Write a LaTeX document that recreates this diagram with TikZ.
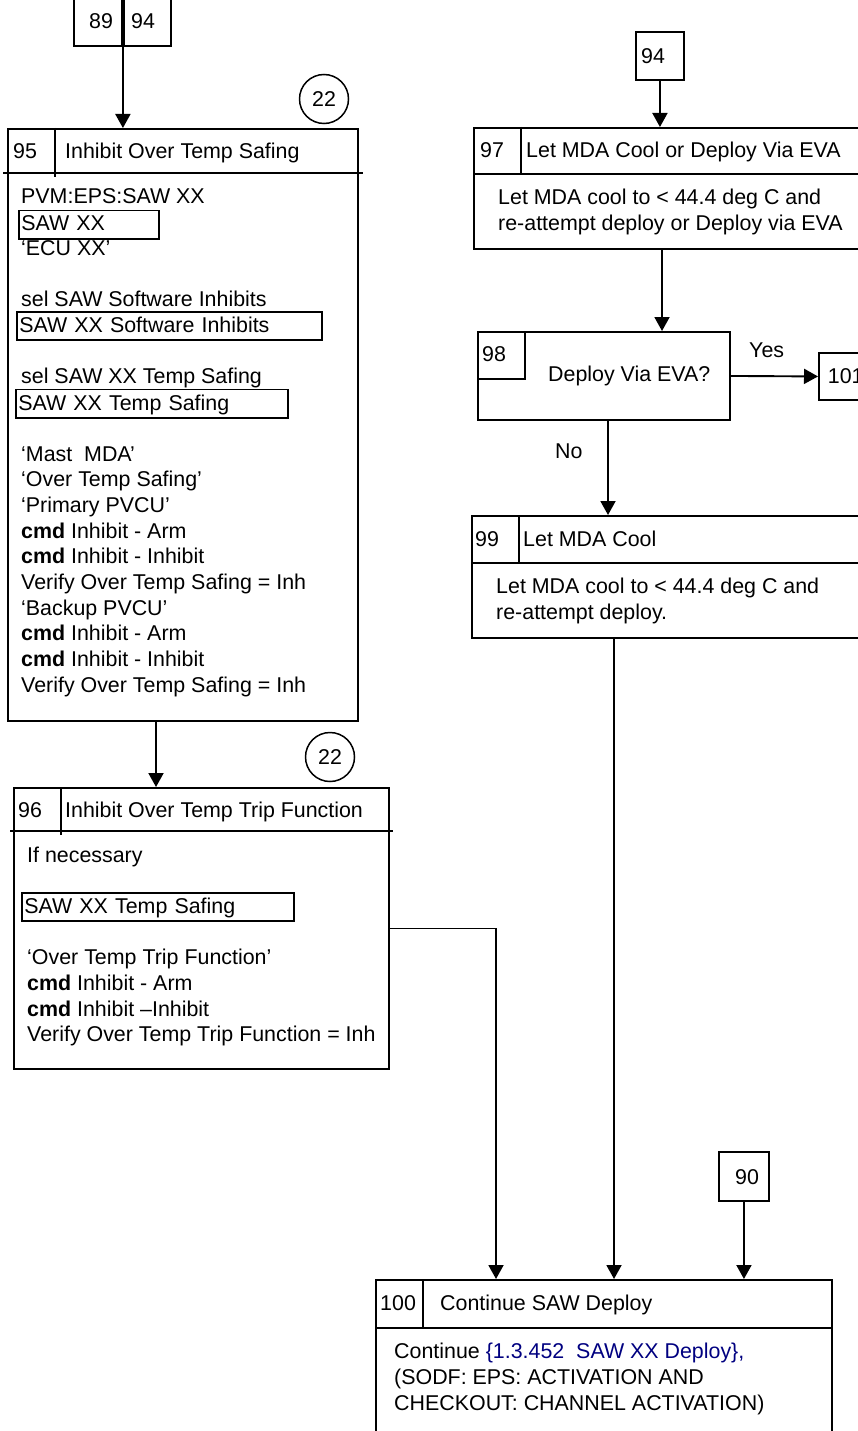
\documentclass[tikz,border=0pt]{standalone}
\usepackage{fontspec}
\setmainfont{Liberation Sans}
\usetikzlibrary{arrows.meta,positioning}
\definecolor{refblue}{RGB}{0,0,128}

\tikzset{
  stepbox/.style 2 args={draw, line width=1.9pt, inner sep=0pt, anchor=north west,
    minimum width=#1, minimum height=#2},
  txt/.style={anchor=base west, inner sep=0pt},
  frm/.style={draw, line width=1.6pt, anchor=base west, inner xsep=2.5pt, inner ysep=0pt,
    text height=20.5pt, text depth=7.8pt, align=left, text width=#1},
  numcirc/.style={circle, draw, line width=1.5pt, minimum size=49pt, inner sep=0pt},
  arr/.style={line width=1.9pt, -{Triangle[length=14pt,width=15pt]}},
  sep/.style={line width=1.9pt}
}

\begin{document}
\begin{tikzpicture}[x=1pt,y=-1pt,font=\fontsize{21.4pt}{25.7pt}\selectfont]
    \useasboundingbox (0,0) rectangle (857,1431);

    % off-page connectors at the top left
    \node[stepbox={48pt}{50pt}] (b89) at (73,-5) {};
    \node[stepbox={47pt}{50pt}] (b94a) at (123,-5) {};
    \node[txt] (n89) at (89,28.3) {89};
    \node[txt] (n94a) at (131,28.3) {94};

    % step 95
    \node[stepbox={350pt}{592pt}] (s95) at (7,128) {};
    \draw[sep] (3,173) -- (363,173);
    \draw[sep] (55,128) -- (55,177);
    \node[txt] (n95) at (13,159) {95};
    \node[txt] (h95) at (65,159) {Inhibit Over Temp Safing};
    \node[numcirc] (c95) at (324,99) {22};
    \foreach \n/\t in {0/{PVM:EPS:SAW XX}, 2/{‘ECU XX’}, 4/{sel SAW Software Inhibits},
        7/{sel SAW XX Temp Safing}, 10/{‘Mast\ \ MDA’}, 11/{‘Over Temp Safing’},
        12/{‘Primary PVCU’}, 13/{\textbf{cmd} Inhibit - Arm}, 14/{\textbf{cmd} Inhibit - Inhibit},
        15/{Verify Over Temp Safing = Inh}, 16/{‘Backup PVCU’}, 17/{\textbf{cmd} Inhibit - Arm},
        18/{\textbf{cmd} Inhibit - Inhibit}, 19/{Verify Over Temp Safing = Inh}} {
        \node[txt] (t95-\n) at (21,{204+25.7*\n}) {\t};
    }
    \node[frm=135pt] (f95a) at (18,231) {SAW XX};
    \node[frm=300pt] (f95b) at (16,332.3) {SAW XX Software Inhibits};
    \node[frm=267pt] (f95c) at (15,410) {SAW XX Temp Safing};

    % step 96
    \node[stepbox={375pt}{281pt}] (s96) at (13,787) {};
    \draw[sep] (10,831) -- (393,831);
    \draw[sep] (61,787) -- (61,835);
    \node[txt] (n96) at (18,817) {96};
    \node[txt] (h96) at (65,817) {Inhibit Over Temp Trip Function};
    \node[numcirc] (c96) at (330,757) {22};
    \foreach \n/\t in {0/{If necessary}, 4/{‘Over Temp Trip Function’},
        5/{\textbf{cmd} Inhibit - Arm}, 6/{\textbf{cmd} Inhibit –Inhibit},
        7/{Verify Over Temp Trip Function = Inh}} {
        \node[txt] (t96-\n) at (27,{862+25.7*\n}) {\t};
    }
    \node[frm=267pt] (f96) at (21,913.4) {SAW XX Temp Safing};

    % step 97
    \node[stepbox={48pt}{48pt}] (b94) at (635,31) {};
    \node[txt] (n94) at (641,63.3) {94};
    \node[stepbox={400pt}{121pt}] (s97) at (473,127) {};
    \draw[sep] (473,174) -- (880,174);
    \draw[sep] (521,127) -- (521,174);
    \node[txt] (n97) at (480,158) {97};
    \node[txt] (h97) at (526,158) {Let MDA Cool or Deploy Via EVA};
    \node[txt] (t97-1) at (498,205) {Let MDA cool to < 44.4 deg C and};
    \node[txt] (t97-2) at (498,230.7) {re-attempt deploy or Deploy via EVA};

    % decision 98
    \node[stepbox={252pt}{88pt}] (d98) at (477,331) {};
    \draw[sep] (477,379) -- (525,379) -- (525,331);
    \node[txt] (n98) at (482,361) {98};
    \node[txt] (h98) at (548,381.7) {Deploy Via EVA?};
    \node[stepbox={60pt}{47pt}] (b101) at (818,352) {};
    \node[txt] (n101) at (827.7,383.3) {101};
    \node[txt] (yes) at (749,357.3) {Yes};
    \node[txt] (no) at (555,458.3) {No};

    % step 99
    \node[stepbox={400pt}{122pt}] (s99) at (471,515) {};
    \draw[sep] (471,563) -- (880,563);
    \draw[sep] (519,515) -- (519,563);
    \node[txt] (n99) at (475,546) {99};
    \node[txt] (h99) at (523,546) {Let MDA Cool};
    \node[txt] (t99-1) at (496,593.5) {Let MDA cool to < 44.4 deg C and};
    \node[txt] (t99-2) at (496,619) {re-attempt deploy.};

    % step 100
    \node[stepbox={50pt}{49pt}] (b90) at (718,1151) {};
    \node[txt] (n90) at (735,1184) {90};
    \node[stepbox={456pt}{180pt}] (s100) at (375,1279) {};
    \draw[sep] (375,1328) -- (831,1328);
    \draw[sep] (423,1279) -- (423,1328);
    \node[txt] (n100) at (380,1310) {100};
    \node[txt] (h100) at (440,1310) {Continue SAW Deploy};
    \node[txt] (t100-1) at (394,1358.3) {Continue \textcolor{refblue}{\{1.3.452\ \ SAW XX Deploy\},}};
    \node[txt] (t100-2) at (394,1384.3) {(SODF: EPS: ACTIVATION AND};
    \node[txt] (t100-3) at (394,1410) {CHECKOUT: CHANNEL ACTIVATION)};

    % connectors
    \draw[arr] (b89.south east) -- (b89.south east |- s95.north);
    \draw[arr] ([xshift=149pt]s95.south west) -- ([xshift=149pt]s95.south west |- s96.north);
    \draw[arr] (s96.east) -| ([xshift=121pt]s100.north west);
    \draw[arr] (b94.south) -- (b94.south |- s97.north);
    \draw[arr] ([xshift=189pt]s97.south west) -- ([xshift=189pt]s97.south west |- d98.north);
    \draw[arr] (d98.east) -- (b101.west);
    \draw[arr] ([xshift=131pt]d98.south west) -- ([xshift=131pt]d98.south west |- s99.north);
    \draw[arr] ([xshift=143pt]s99.south west) -- ([xshift=143pt]s99.south west |- s100.north);
    \draw[arr] (b90.south) -- (b90.south |- s100.north);
\end{tikzpicture}
\end{document}
